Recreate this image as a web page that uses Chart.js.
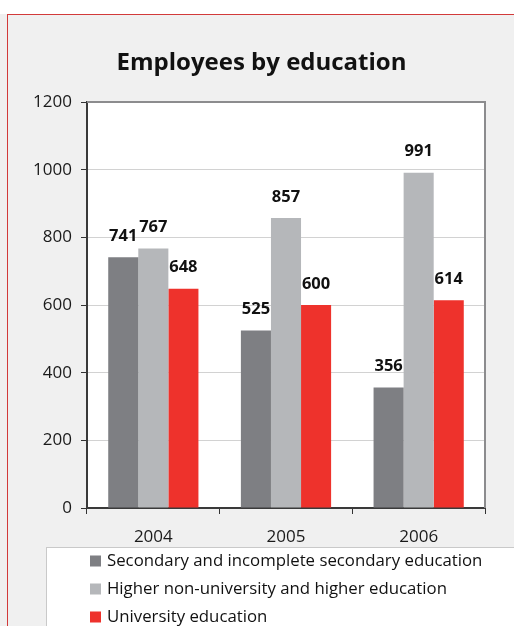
<!DOCTYPE html>
<html>
<head>
<meta charset="utf-8">
<script src="https://cdn.jsdelivr.net/npm/chart.js@4.4.0/dist/chart.umd.min.js"></script>
<style>
    html, body { margin: 0; padding: 0; }
    body { width: 514px; height: 626px; background: #ffffff; position: relative; overflow: hidden; }
    .panel {
        position: absolute; left: 0; top: 14px; width: 514px; height: 612px;
        background: #f0f0f0;
    }
    .panel .edge {
        position: absolute; left: 7px; top: 0; right: 0; bottom: 0;
        border-top: 1px solid #d23a3a; border-left: 1px solid #d23a3a;
    }
    #chart { position: absolute; left: 0; top: 0; }
</style>
</head>
<body>
<div class="panel"><div class="edge"></div></div>
<canvas id="chart" width="514" height="626"></canvas>
<script>
var years = ["2004", "2005", "2006"];
var seriesNames = [
    "Secondary and incomplete secondary education",
    "Higher non-university and higher education",
    "University education"
];
var secondaryValues = [741, 525, 356];
var higherNonUniValues = [767, 857, 991];
var universityValues = [648, 600, 614];
var yTicks = [0, 200, 400, 600, 800, 1000, 1200];

var seriesColors = ["#7e7f83", "#b5b7ba", "#ee322c"];
var fontName = "'Open Sans', 'DejaVu Sans', sans-serif";

// white plot area with grey top/right frame
var plotFrame = {
    id: "plotFrame",
    beforeDraw: chart => {
        var ctx = chart.ctx;
        var a = chart.chartArea;
        ctx.save();
        ctx.fillStyle = "#ffffff";
        ctx.fillRect(a.left, a.top, a.right - a.left, a.bottom - a.top);
        ctx.restore();
    },
    beforeDatasetsDraw: chart => {
        var ctx = chart.ctx;
        var a = chart.chartArea;
        ctx.save();
        ctx.strokeStyle = "#8c8c8e";
        ctx.lineWidth = 2;
        ctx.beginPath();
        ctx.moveTo(a.left, a.top);
        ctx.lineTo(a.right, a.top);
        ctx.lineTo(a.right, a.bottom);
        ctx.stroke();
        ctx.restore();
    }
};

// value labels above each bar
var barValues = {
    id: "barValues",
    afterDatasetsDraw: chart => {
        var ctx = chart.ctx;
        ctx.save();
        ctx.font = "bold 16.5px " + fontName;
        ctx.fillStyle = "#111111";
        ctx.textAlign = "center";
        ctx.textBaseline = "middle";
        chart.data.datasets.forEach((ds, i) => {
            chart.getDatasetMeta(i).data.forEach((bar, j) => {
                ctx.fillText(ds.data[j], bar.x, bar.y - 21);
            });
        });
        ctx.restore();
    }
};

// boxed legend under the axis
var boxLegend = {
    id: "boxLegend",
    afterDraw: chart => {
        var ctx = chart.ctx;
        var top = chart.chartArea.bottom + 39;
        ctx.save();
        ctx.fillStyle = "#ffffff";
        ctx.fillRect(46, top, 480, 100);
        ctx.strokeStyle = "#c9c9c9";
        ctx.lineWidth = 1;
        ctx.strokeRect(46.5, top + 0.5, 480, 100);
        ctx.font = "16.8px " + fontName;
        ctx.textBaseline = "middle";
        chart.data.datasets.forEach((ds, i) => {
            var y = top + 14 + i * 28;
            ctx.fillStyle = ds.backgroundColor;
            ctx.fillRect(90, y - 5.5, 11, 11);
            ctx.fillStyle = "#111111";
            ctx.fillText(ds.label, 107, y);
        });
        ctx.restore();
    }
};

var datasets = [secondaryValues, higherNonUniValues, universityValues].map((values, i) => ({
    label: seriesNames[i],
    data: values,
    backgroundColor: seriesColors[i],
    borderWidth: 0,
    categoryPercentage: 0.68,
    barPercentage: 1.0
}));

new Chart(document.querySelector("#chart"), {
    type: "bar",
    data: {
        labels: years,
        datasets: datasets
    },
    options: {
        responsive: false,
        animation: false,
        devicePixelRatio: 1,
        layout: {
            padding: { left: 24, right: 15, top: 0, bottom: 80 }
        },
        plugins: {
            legend: { display: false },
            tooltip: { enabled: false },
            title: {
                display: true,
                text: "Employees by education",
                color: "#111111",
                font: { family: fontName, size: 24, weight: "bold" },
                padding: { top: 48.6, bottom: 24.6 }
            }
        },
        scales: {
            x: {
                grid: {
                    offset: true,
                    drawOnChartArea: false,
                    tickLength: 6,
                    tickColor: "#333333"
                },
                border: { color: "#3a3a3a", width: 2 },
                ticks: {
                    color: "#1a1a1a",
                    padding: 13,
                    font: { family: fontName, size: 17 }
                },
                afterFit: scale => { scale.height = 38; }
            },
            y: {
                min: 0,
                max: 1200,
                afterBuildTicks: scale => {
                    scale.ticks = yTicks.map(v => ({ value: v }));
                },
                grid: {
                    color: "#d2d2d2",
                    tickLength: 6,
                    tickColor: "#333333"
                },
                border: { color: "#3a3a3a", width: 2 },
                ticks: {
                    color: "#1a1a1a",
                    padding: 9,
                    font: { family: fontName, size: 17 },
                    callback: v => String(v)
                },
                afterFit: scale => { scale.width = 63; }
            },
            // empty right gutter so the title centres like the original
            gutter: {
                type: "linear",
                position: "right",
                grid: { display: false },
                border: { display: false },
                ticks: { display: false },
                afterFit: scale => { scale.width = 14; }
            }
        }
    },
    plugins: [plotFrame, barValues, boxLegend]
});
</script>
</body>
</html>
